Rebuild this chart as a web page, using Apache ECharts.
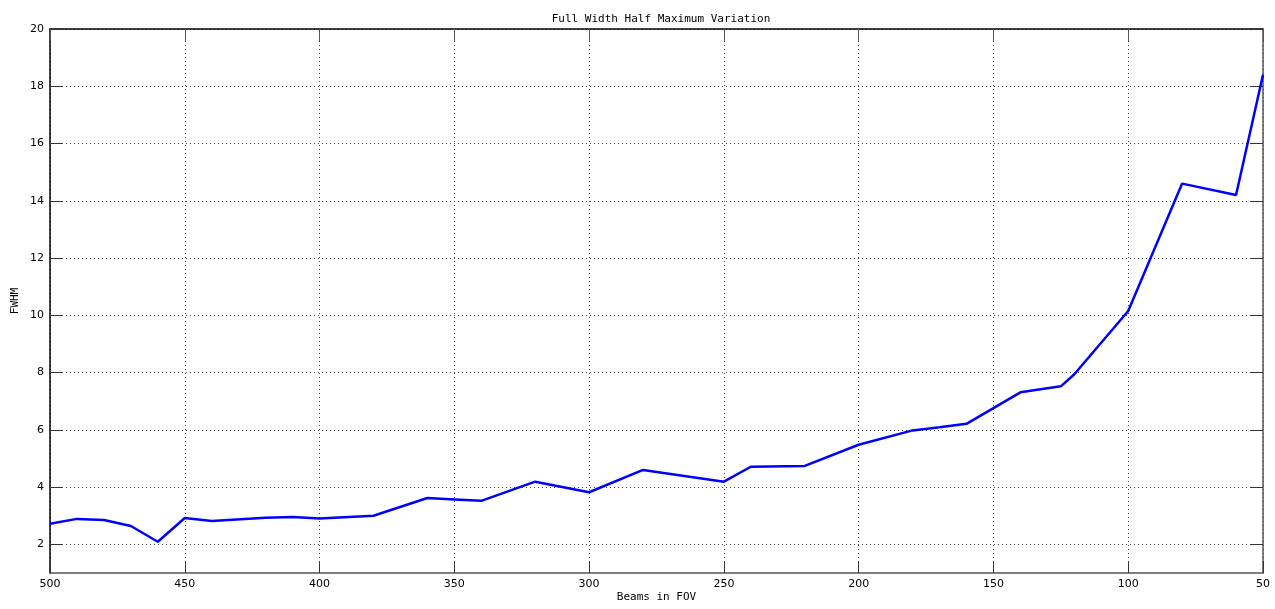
<!DOCTYPE html>
<html>
<head>
<meta charset="utf-8">
<script src="https://cdn.jsdelivr.net/npm/echarts@6/dist/echarts.min.js"></script>
<style>
  html, body { margin: 0; padding: 0; background: #fff; }
  #chart { width: 1275px; height: 609px; }
</style>
</head>
<body>
<div id="chart"></div>
<script>
// Beam count in the field of view (x) and measured FWHM (y)
const beams = [500, 490, 480, 470, 460, 450, 440, 420, 410, 400, 380, 360, 350, 340, 320, 300, 280, 250, 240, 220, 200, 180, 170, 160, 140, 125, 120, 100, 80, 60, 50];
const fwhm  = [2.72, 2.89, 2.85, 2.64, 2.09, 2.92, 2.82, 2.93, 2.96, 2.90, 3.00, 3.62, 3.57, 3.52, 4.19, 3.82, 4.60, 4.19, 4.71, 4.74, 5.48, 5.98, 6.09, 6.21, 7.31, 7.52, 7.94, 10.15, 14.6, 14.2, 18.4];
const yTicks = [2, 4, 6, 8, 10, 12, 14, 16, 18, 20];

const monoFont = '"DejaVu Sans Mono", monospace';
const labelFont = '"DejaVu Sans", sans-serif';
const gridDots = { color: '#444', width: 1, type: [1, 3] };

const chart = echarts.init(document.getElementById('chart'));

const xBase = {
  type: 'value', min: 50, max: 500, interval: 50, inverse: true
};
const yBase = {
  type: 'value', min: 1, max: 20
};

chart.setOption({
  animation: false,
  backgroundColor: '#fff',
  title: {
    text: 'Full Width Half Maximum Variation',
    left: 656, top: 9, textAlign: 'center',
    textStyle: { fontFamily: monoFont, fontSize: 11, fontWeight: 'normal', color: '#000' }
  },
  grid: { left: 50, right: 12, top: 29, bottom: 36, containLabel: false, outerBoundsMode: 'none' },
  xAxis: [
    Object.assign({}, xBase, {
      position: 'bottom',
      name: 'Beams in FOV', nameLocation: 'middle', nameGap: 19, nameMoveOverlap: false,
      nameTextStyle: { fontFamily: monoFont, fontSize: 11, color: '#000' },
      axisLine: { show: true, lineStyle: { color: '#555', width: 1.5 } },
      axisTick: { show: true, inside: true, length: 12, lineStyle: { color: '#333' } },
      axisLabel: { margin: 6, fontFamily: labelFont, fontSize: 11, color: '#000' },
      splitLine: { show: true, lineStyle: gridDots }
    }),
    Object.assign({}, xBase, {
      position: 'top',
      axisLine: { show: true, lineStyle: { color: '#000', width: 1.5 } },
      axisTick: { show: true, inside: true, length: 12, lineStyle: { color: '#555' } },
      axisLabel: { show: false },
      splitLine: { show: false }
    })
  ],
  yAxis: [
    Object.assign({}, yBase, {
      position: 'left',
      name: 'FWHM', nameLocation: 'middle', nameGap: 29, nameMoveOverlap: false,
      nameTextStyle: { fontFamily: monoFont, fontSize: 11, color: '#000' },
      axisLine: { show: true, lineStyle: { color: '#000', width: 1.5 } },
      axisTick: { show: true, inside: true, length: 12, customValues: yTicks, lineStyle: { color: '#333' } },
      axisLabel: { margin: 6, fontFamily: labelFont, fontSize: 11, color: '#000', customValues: yTicks },
      splitLine: { show: true, customValues: yTicks, lineStyle: gridDots }
    }),
    Object.assign({}, yBase, {
      position: 'right',
      axisLine: { show: true, lineStyle: { color: '#555', width: 1.5 } },
      axisTick: { show: true, inside: true, length: 12, customValues: yTicks, lineStyle: { color: '#333' } },
      axisLabel: { show: false, customValues: yTicks },
      splitLine: { show: false }
    })
  ],
  series: [{
    type: 'line',
    xAxisIndex: 0, yAxisIndex: 0,
    data: beams.map((b, i) => [b, fwhm[i]]),
    showSymbol: false,
    symbol: 'none',
    lineStyle: { color: '#0000ff', width: 2.5 },
    itemStyle: { color: '#0000ff' }
  }]
});
</script>
</body>
</html>
